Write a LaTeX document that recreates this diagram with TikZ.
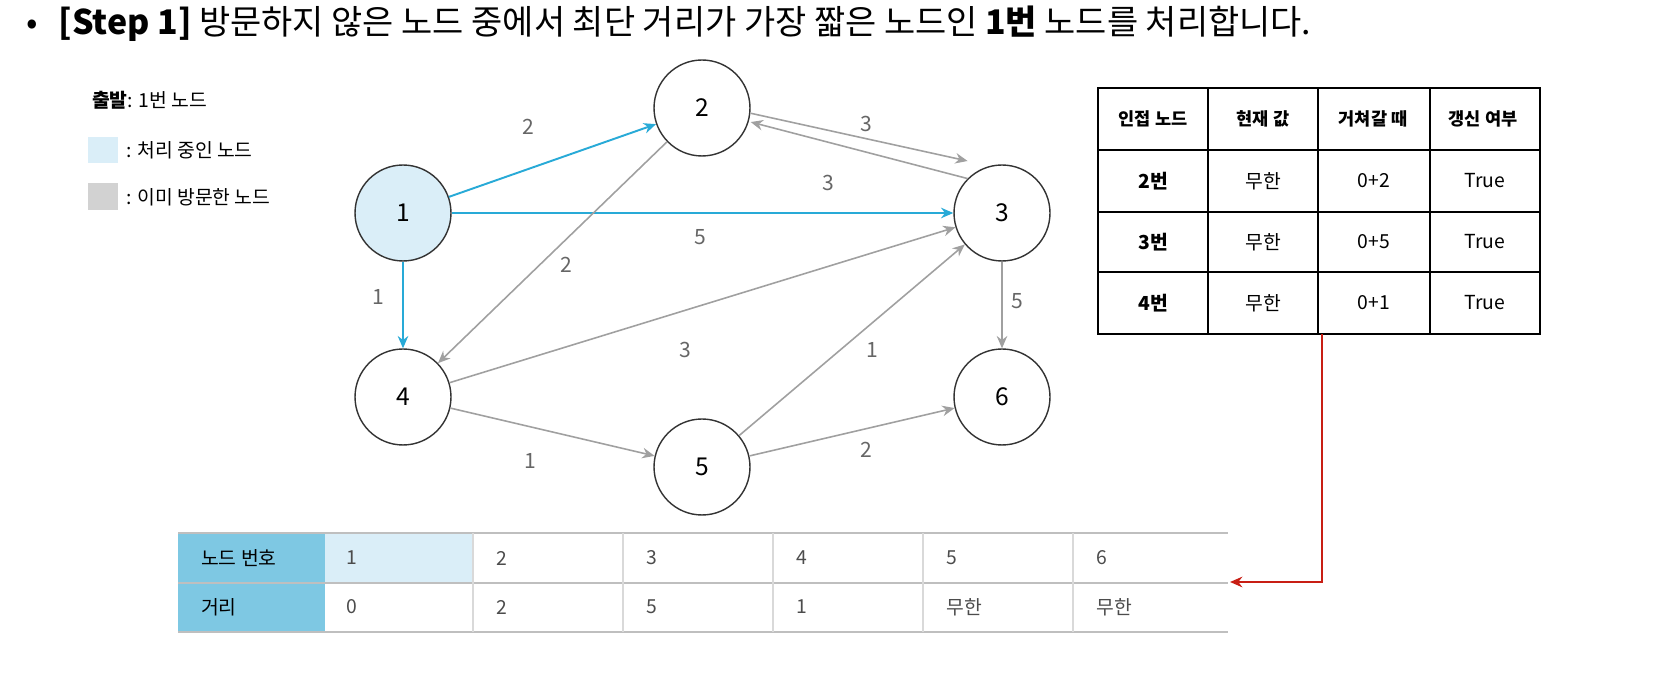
\documentclass[tikz,border=0pt]{standalone}
\usepackage{fontspec}
\setmainfont{Noto Sans CJK KR}
\usetikzlibrary{arrows.meta}
\definecolor{edgegray}{RGB}{160,160,160}
\definecolor{edgeblue}{RGB}{40,170,215}
\definecolor{curfill}{RGB}{218,238,248}
\definecolor{headfill}{RGB}{126,200,227}
\definecolor{visitfill}{RGB}{210,210,210}
\definecolor{arrred}{RGB}{200,30,20}
\tikzset{
  vertex/.style={circle,draw=black!80,line width=0.8pt,minimum size=1.92cm,font=\fontsize{14}{14}\selectfont},
  gedge/.style={draw=edgegray,line width=0.9pt,-{Stealth[length=7pt,width=6pt]}},
  bedge/.style={draw=edgeblue,line width=1.1pt,-{Stealth[length=7pt,width=6pt]}},
  wlabel/.style={text=black!60,font=\fontsize{12}{12}\selectfont},
  cell/.style={font=\fontsize{11}{11}\selectfont},
}
\begin{document}
\begin{tikzpicture}[x=0.02cm,y=-0.02cm]
  \useasboundingbox (0,0) rectangle (1672,688);

  % title
  \node[anchor=west,font=\fontsize{19.3}{19.3}\selectfont] (title) at (20,24)
    {•\hspace{12pt}\textbf{[Step 1]} 방문하지 않은 노드 중에서 최단 거리가 가장 짧은 노드인 \textbf{1번} 노드를 처리합니다.};

  % legend
  \node[anchor=west,font=\fontsize{11}{11}\selectfont] (start) at (86,100) {\textbf{출발}: 1번 노드};
  \fill[curfill] (88,137) rectangle (118,163);
  \node[anchor=west,font=\fontsize{11}{11}\selectfont] (cur) at (120,150) {: 처리 중인 노드};
  \fill[visitfill] (88,183) rectangle (118,210);
  \node[anchor=west,font=\fontsize{11}{11}\selectfont] (vis) at (120,197) {: 이미 방문한 노드};

  % graph
  \node[vertex,fill=curfill] (n1) at (403,213) {1};
  \node[vertex] (n2) at (702,108) {2};
  \node[vertex] (n3) at (1002,213) {3};
  \node[vertex] (n4) at (403,397) {4};
  \node[vertex] (n5) at (702,467) {5};
  \node[vertex] (n6) at (1002,397) {6};

  \draw[bedge] (n1) -- (n2);
  \draw[bedge] (n1) -- (n3);
  \draw[bedge] (n1) -- (n4);
  \draw[gedge] ([yshift=-3pt]n2.east) -- ([yshift=10pt]n3.north west);
  \draw[gedge] (n3.north west) -- ([yshift=-8pt]n2.east);
  \draw[gedge] (n2) -- (n4);
  \draw[gedge] (n4) -- (n3);
  \draw[gedge] (n4) -- (n5);
  \draw[gedge] (n5) -- (n3);
  \draw[gedge] (n5) -- (n6);
  \draw[gedge] (n3) -- (n6);

  \node[wlabel] (w12) at (528,127) {2};
  \node[wlabel] (w13) at (700,237) {5};
  \node[wlabel] (w14) at (378,297) {1};
  \node[wlabel] (w23) at (866,124) {3};
  \node[wlabel] (w32) at (828,183) {3};
  \node[wlabel] (w24) at (566,265) {2};
  \node[wlabel] (w43) at (685,350) {3};
  \node[wlabel] (w45) at (530,461) {1};
  \node[wlabel] (w53) at (872,350) {1};
  \node[wlabel] (w56) at (866,450) {2};
  \node[wlabel] (w36) at (1017,301) {5};

  % update table
  \draw[line width=0.8pt] (1098,88) rectangle (1540,334);
  \foreach \y in {150,212,272} \draw[line width=0.8pt] (1098,\y) -- (1540,\y);
  \foreach \x in {1208,1318,1430} \draw[line width=0.8pt] (\x,88) -- (\x,334);
  \foreach \t [count=\i] in {인접 노드,현재 값,거쳐갈 때,갱신 여부}
    \node[cell,font=\fontsize{10}{10}\selectfont\bfseries] (h\i) at (1098+110*\i-55,119) {\t};
  \foreach \a/\b [count=\j] in {2/0+2,3/0+5,4/0+1} {
    \node[cell,font=\fontsize{11}{11}\selectfont\bfseries] (r\j a) at (1153,120+61*\j) {{\a}번};
    \node[cell] (r\j b) at (1263,120+61*\j) {무한};
    \node[cell] (r\j c) at (1374,120+61*\j) {\b};
    \node[cell] (r\j d) at (1485,120+61*\j) {True};
  }
  \coordinate (tblout) at (1322,334);
  \coordinate (bend) at (1322,582);
  \coordinate (tblin) at (1230,582);
  \draw[arrred,line width=1.3pt,-{Stealth[length=7pt,width=6pt]}] (tblout) -- (bend) -- (tblin);

  % distance table
  \fill[headfill] (178,533) rectangle (325,632);
  \fill[curfill] (325,533) rectangle (473,583);
  \foreach \y in {533,583,632} \draw[black!25,line width=0.7pt] (178,\y) -- (1228,\y);
  \foreach \x in {473,623,773,923,1073} \draw[black!15,line width=0.6pt] (\x,533) -- (\x,632);
  \node[cell,anchor=west] (lbl1) at (195,558) {노드 번호};
  \node[cell,anchor=west] (lbl2) at (195,607) {거리};
  \foreach \n/\d [count=\k from 0] in {1/0,2/2,3/5,4/1,5/무한,6/무한} {
    \node[cell,anchor=west,text=black!70] (id\n) at (340+150*\k,558) {\n};
    \node[cell,anchor=west,text=black!70] (dist\n) at (340+150*\k,607) {\d};
  }
\end{tikzpicture}
\end{document}
